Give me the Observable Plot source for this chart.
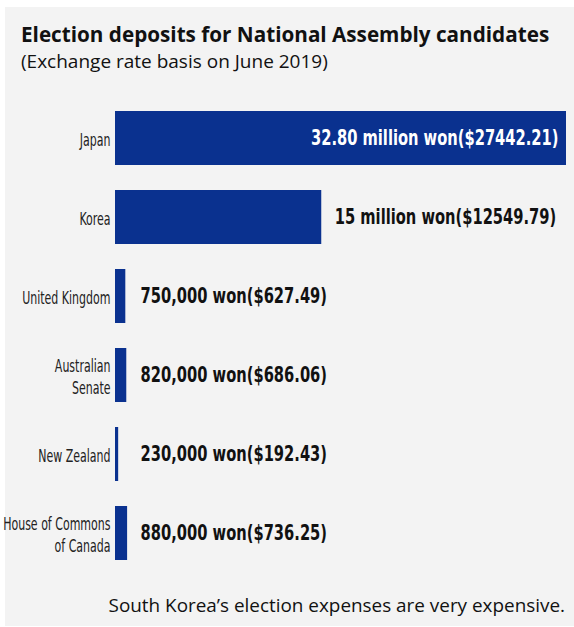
<!DOCTYPE html>
<html>
<head>
<meta charset="utf-8">
<script src="https://cdn.jsdelivr.net/npm/d3@7"></script>
<script src="https://cdn.jsdelivr.net/npm/@observablehq/plot@0.6"></script>
<style>
  html, body { margin: 0; padding: 0; background: #ffffff; }
  #wrap { position: relative; width: 574px; height: 627px; overflow: hidden; }
  #panel { position: absolute; left: 5px; top: 7px; width: 569px; height: 619px; background: #f3f3f3; }
  .t { position: absolute; white-space: nowrap; color: #111; font-family: "Open Sans", "Noto Sans", sans-serif; line-height: normal; }
  #title { left: 21px; top: 19.5px; font-size: 20.7px; font-weight: 700; }
  #subtitle { left: 21px; top: 47.5px; font-size: 19px; font-weight: 400; }
  #caption { right: 9px; top: 591.5px; font-size: 18.9px; font-weight: 400; }
  #chart { position: absolute; left: 0; top: 60px; }
</style>
</head>
<body>
<div id="wrap">
  <div id="panel"></div>
  <div id="chart"></div>
  <div class="t" id="title">Election deposits for National Assembly candidates</div>
  <div class="t" id="subtitle">(Exchange rate basis on June 2019)</div>
  <div class="t" id="caption">South Korea’s election expenses are very expensive.</div>
</div>
<script>
const countries = ["Japan", "Korea", "United Kingdom", "Australian\nSenate", "New Zealand", "House of Commons\nof Canada"];
const depositsWon = [32800000, 15000000, 750000, 820000, 230000, 880000];
const valueLabels = ["32.80 million won($27442.21)", "15 million won($12549.79)", "750,000 won($627.49)", "820,000 won($686.06)", "230,000 won($192.43)", "880,000 won($736.25)"];

const data = countries.map((c, i) => ({country: c, value: depositsWon[i], label: valueLabels[i]}));
const narrow = "'Liberation Sans Narrow', 'DejaVu Sans Condensed', 'Arial Narrow', sans-serif";
const inside = data.filter(d => d.value > 20000000);
const outside = data.filter(d => d.value <= 20000000);

const chart = Plot.plot({
  width: 574,
  height: 527,
  marginTop: 23.4,
  marginBottom: 0,
  marginLeft: 115,
  marginRight: 8,
  style: {background: "transparent", fontFamily: narrow, overflow: "visible"},
  x: {domain: [0, 32800000], axis: null},
  y: {domain: countries, padding: 0.322, label: null},
  marks: [
    Plot.barX(data, {x: "value", y: "country", fill: "#0a318f"}),
    Plot.axisY({tickSize: 0, tickPadding: 5, fontSize: 17, fill: "#222", lineHeight: 1.3, label: null, className: "ylab"}),
    Plot.text(inside, {x: "value", y: "country", text: "label", textAnchor: "end", dx: -8, fill: "white", fontSize: 21.5, fontWeight: "bold", className: "vlab"}),
    Plot.text(outside, {x: d => Math.max(d.value, 880000), y: "country", text: "label", textAnchor: "start", dx: 13, fill: "#111", fontSize: 21.5, fontWeight: "bold", className: "vlab"})
  ]
});
document.getElementById("chart").appendChild(chart);

// Condense text horizontally about each label's anchor point (narrow font look)
function condense(sel, sx) {
  chart.querySelectorAll(sel).forEach(t => {
    const tr = t.getAttribute("transform") || "";
    t.setAttribute("transform", tr + ` scale(${sx},1)`);
  });
}
condense(".vlab text", 0.76);
condense(".ylab text", 0.72);
</script>
</body>
</html>
